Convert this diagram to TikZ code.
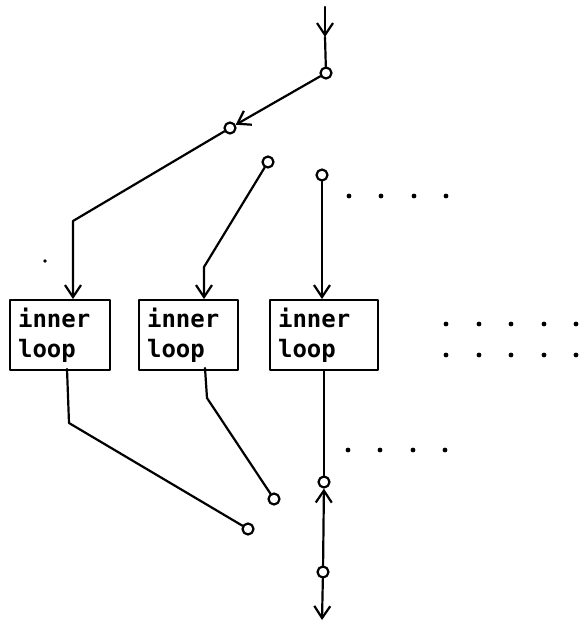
\documentclass[tikz,border=0pt]{standalone}
\usepackage{fontspec}
\newfontfamily\boxfont{DejaVu Sans Mono Bold}
\usetikzlibrary{arrows.meta}
\begin{document}
\begin{tikzpicture}[x=1pt,y=-1pt,
  line width=2.2pt,
  every path/.style={line cap=round,line join=round},
  arr/.style={-{Straight Barb[length=12pt,width=16pt,line width=2.2pt]}},
  knot/.style={circle,draw,line width=2.2pt,minimum size=11pt,inner sep=0pt},
  loopbox/.style={draw,line width=2.2pt,rectangle,minimum height=70pt,inner ysep=0pt,inner xsep=8pt,
    align=left,font=\fontsize{24}{30}\selectfont\boxfont,anchor=north west},
  pt/.style={circle,fill,inner sep=0pt,minimum size=4.8pt}
]
\useasboundingbox (0,0) rectangle (579,627);

% boxes
\node[loopbox,text width=84pt] (b1) at (9,299) {inner\\loop};
\node[loopbox,text width=83pt] (b2) at (138,299) {inner\\loop};
\node[loopbox,text width=92pt] (b3) at (269,299) {inner\\loop};

% knots
\node[knot] (c1) at (326,73) {};
\node[knot] (c2) at (230,128) {};
\node[knot] (c3) at (268,162) {};
\node[knot] (c4) at (322,175) {};
\node[knot] (c6) at (248,529) {};
\node[knot] (c7) at (274,499) {};
\node[knot] (c8) at (324,482) {};
\node[knot] (c9) at (323,572) {};

% helper coordinates
\coordinate (top) at (325,7);
\coordinate (topmid) at (325,37);
\coordinate (k1) at (73,221);
\coordinate (k2) at (204,267);
\coordinate (o1) at (67,369);
\coordinate (k3) at (69,423);
\coordinate (o2) at (205,368);
\coordinate (k4) at (207,398);
\coordinate (bot) at (322,620);

% connectors
\draw[arr] (top) -- (topmid);
\draw (topmid) -- (c1);
\draw[arr] (c1) -- (c2);
\draw[arr] (c2) -- (k1) -- (k1 |- b1.north);
\draw[arr] (c3) -- (k2) -- (k2 |- b2.north);
\draw[arr] (c4) -- (c4 |- b3.north);
\draw (o1) -- (k3) -- (c6);
\draw (o2) -- (k4) -- (c7);
\draw (c8 |- b3.south) -- (c8);
\draw[arr] (c9) -- (c8);
\draw[arr] (c9) -- (bot);

% dots
\foreach \x in {349,381,414,446} \node[pt] at (\x,196) {};
\foreach \x in {446,479,511,544,576} {\node[pt] at (\x,324) {}; \node[pt] at (\x,355) {};}
\foreach \x in {348,380,413,445} \node[pt] at (\x,450) {};
\node[pt,minimum size=3.6pt] at (45,261) {};
\end{tikzpicture}
\end{document}
